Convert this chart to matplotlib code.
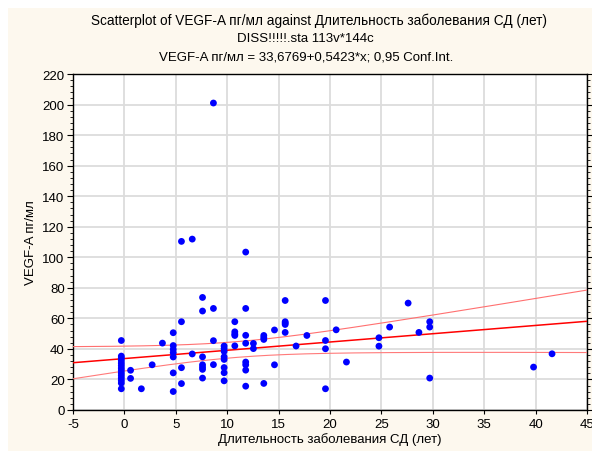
import numpy as np
import matplotlib
matplotlib.use("Agg")
import matplotlib.pyplot as plt
from matplotlib.patches import Rectangle
from matplotlib.ticker import MultipleLocator

plt.rcParams['font.family'] = ['Liberation Sans', 'DejaVu Sans']

# Disease duration (years) and VEGF-A level (pg/ml)
duration = [
    -0.3, -0.3, -0.3, -0.3, -0.3, -0.3, -0.3, -0.3, -0.3, -0.3, -0.3, -0.3, -0.3, -0.3,
    0.6, 0.6, 1.65, 2.7, 3.7,
    4.75, 4.75, 4.75, 4.75, 4.75, 4.75, 4.75,
    5.55, 5.55, 5.55, 5.55, 6.6, 6.6,
    7.6, 7.6, 7.6, 7.6, 7.6, 7.6, 7.6,
    8.66, 8.66, 8.66, 8.66,
    9.7, 9.7, 9.7, 9.7, 9.7, 9.7, 9.7, 9.7,
    10.74, 10.74, 10.74, 10.74, 10.74,
    11.8, 11.8, 11.8, 11.8, 11.8, 11.8, 11.8, 11.8,
    12.55, 12.55, 13.56, 13.56, 13.56, 13.56, 14.6, 14.6,
    15.64, 15.64, 15.64, 15.64, 15.64, 16.7, 17.75,
    19.56, 19.56, 19.56, 19.56, 20.6, 21.6,
    24.76, 24.76, 25.8, 27.6, 28.65, 29.7, 29.7, 29.7,
    39.8, 41.6,
]
vegf = [
    45.5, 35.3, 34.0, 32.4, 30.7, 29.1, 27.4, 25.9, 24.2, 22.6, 20.9, 19.3, 17.6, 13.9,
    26.0, 20.7, 13.9, 29.6, 43.8,
    50.6, 42.2, 39.7, 37.5, 34.7, 24.3, 12.1,
    110.4, 57.8, 27.7, 17.3, 111.9, 36.7,
    73.7, 64.8, 34.8, 29.6, 28.0, 26.6, 20.9,
    201.0, 66.5, 45.4, 29.7,
    41.9, 40.2, 38.4, 34.8, 33.1, 27.8, 24.4, 19.1,
    57.8, 51.2, 49.7, 48.8, 42.0,
    103.4, 66.5, 48.9, 43.7, 31.4, 29.6, 26.1, 15.6,
    43.6, 40.2, 48.8, 47.4, 46.2, 17.4, 52.4, 29.6,
    71.7, 57.8, 56.9, 56.0, 50.8, 41.9, 48.8,
    71.7, 45.5, 40.1, 13.9, 52.5, 31.4,
    47.3, 41.8, 54.3, 70.0, 50.8, 57.8, 54.3, 20.9,
    28.1, 36.8,
]

# Fitted line stated in the title
intercept = 33.6769
slope = 0.5423
conf_level = 0.95

x_ticks = [-5, 0, 5, 10, 15, 20, 25, 30, 35, 40, 45]
y_ticks = [0, 20, 40, 60, 80, 100, 120, 140, 160, 180, 200, 220]

x = np.asarray(duration, dtype=float)
y = np.asarray(vegf, dtype=float)
n = len(x)

# Confidence band for the mean response
xs = np.linspace(x_ticks[0], x_ticks[-1], 300)
yhat = intercept + slope * xs
resid = y - (intercept + slope * x)
s = np.sqrt(np.sum(resid ** 2) / (n - 2))
sxx = np.sum((x - x.mean()) ** 2)
t_crit = 1.986
half = t_crit * s * np.sqrt(1.0 / n + (xs - x.mean()) ** 2 / sxx)

fig = plt.figure(figsize=(5.92, 4.52), dpi=100, facecolor='white')
fig.patches.append(Rectangle((8 / 592, 0), 1, 1 - 9 / 452, transform=fig.transFigure,
                             facecolor='#fdf8ee', edgecolor='none', zorder=-10))

ax = fig.add_axes([73 / 592, 1 - 411 / 452, 514 / 592, 336 / 452])
ax.set_facecolor('white')

ax.plot(xs, yhat + half, color='#ff7070', lw=0.8, zorder=3)
ax.plot(xs, yhat - half, color='#ff7a7a', lw=0.8, zorder=3)
ax.plot(xs, yhat, color='#ff0000', lw=1.1, zorder=3)
ax.scatter(x, y, s=24, color='#0000ff', edgecolors='none', zorder=4)

ax.set_xlim(x_ticks[0], x_ticks[-1])
ax.set_ylim(y_ticks[0], y_ticks[-1])
ax.set_xticks(x_ticks)
ax.set_yticks(y_ticks)
ax.set_xticklabels([str(v) for v in x_ticks])
ax.set_yticklabels([str(v) for v in y_ticks])
ax.yaxis.set_minor_locator(MultipleLocator(4))
ax.grid(True, which='major', color='#dcdcdc', lw=1.3, zorder=0)
ax.set_axisbelow(True)

for sp in ax.spines.values():
    sp.set_color('black')
    sp.set_linewidth(1.0)

ax.tick_params(axis='x', which='major', direction='out', length=3, width=0.8,
               labelsize=9.5, pad=3, top=False)
ax.tick_params(axis='y', which='major', direction='out', length=4, width=0.8,
               labelsize=9.5, pad=2, right=True)
ax.tick_params(axis='y', which='minor', direction='out', length=2, width=0.6, right=True)

ax.set_xlabel('Длительность заболевания СД (лет)', fontsize=9.5, labelpad=1)
ax.set_ylabel('VEGF-A пг/мл', fontsize=9.5, labelpad=4)

fig.text(319 / 592, 1 - 21 / 452, 'Scatterplot of VEGF-A пг/мл against Длительность заболевания СД (лет)',
         ha='center', va='center', fontsize=9.8)
fig.text(305 / 592, 1 - 39 / 452, 'DISS!!!!!.sta 113v*144c', ha='center', va='center', fontsize=9.5)
fig.text(306 / 592, 1 - 57 / 452, 'VEGF-A пг/мл = 33,6769+0,5423*x; 0,95 Conf.Int.',
         ha='center', va='center', fontsize=9.5)

fig.savefig('out.png', dpi=100, facecolor=fig.get_facecolor())
